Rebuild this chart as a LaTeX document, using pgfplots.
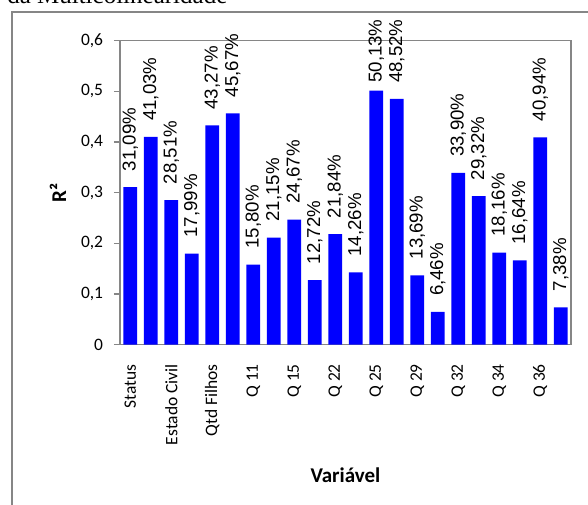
\documentclass[border=0pt]{standalone}
\usepackage{pgfplots}
\pgfplotsset{compat=1.18}
\usepackage{pgfplotstable}
\usepackage{fontspec}
\setmainfont{Carlito}
\newfontfamily\labelfont{Liberation Sans}
\newfontfamily\headfont{Liberation Serif}
\definecolor{framegray}{RGB}{134,134,134}
\definecolor{barblue}{RGB}{0,0,255}

% R^2 of each variable; ls = gap (pt) between bar top and its value label
\pgfplotstableread{
idx r2     ls
0   0.3109 12
1   0.4103 12
2   0.2851 12
3   0.1799 12
4   0.4327 12
5   0.4567 12
6   0.1580 12
7   0.2115 12
8   0.2467 12
9   0.1272 12
10  0.2184 12
11  0.1426 12
12  0.5013 6
13  0.4852 12
14  0.1369 12
15  0.0646 12
16  0.3390 12
17  0.2932 12
18  0.1816 12
19  0.1664 12
20  0.4094 12
21  0.0738 12
}\rsq

\begin{document}
\begin{tikzpicture}[x=0.75pt,y=0.75pt]
\useasboundingbox (0,0) rectangle (588,505);
\clip (0,0) rectangle (588,505);
\coordinate (plotorigin) at (120,160.3);
\node[anchor=base west, inner sep=0pt, font=\headfont\fontsize{18.75pt}{20pt}\selectfont] at (7,501) {da Multicolinearidade};
\draw[framegray, line width=1.1pt] (12,-20) -- (12,493) -- (640,493);
\begin{axis}[
  at={(plotorigin)}, anchor=south west,
  scale only axis, width=338.25pt, height=228pt,
  xmin=-0.5, xmax=21.5, ymin=0, ymax=0.6,
  ytick={0,0.1,...,0.6},
  yticklabel={\pgfmathprintnumber[fixed,use comma,precision=1,assume math mode=true]{\tick}},
  xtick={0,2,...,20},
  xticklabels={Status,Estado Civil,Qtd Filhos,Q 11,Q 15,Q 22,Q 25,Q 29,Q 32,Q 34,Q 36},
  ytick pos=left,
  tick align=outside,
  major tick length=4.5pt,
  xtick style={draw=none},
  every tick/.style={framegray, line width=0.9pt},
  axis line style={framegray, line width=0.9pt},
  tick label style={font=\fontsize{13.1pt}{15pt}\selectfont},
  yticklabel style={inner sep=0pt},
  yticklabel shift=8pt,
  xticklabel style={rotate=90, anchor=east, inner sep=0pt},
  xticklabel shift=10pt,
  xlabel={\bfseries Variável},
  ylabel={\bfseries R²},
  label style={font=\fontsize{15.75pt}{18pt}\selectfont},
  xlabel style={at={(axis description cs:0.5,-0.428)}, anchor=center},
  ylabel style={at={(axis description cs:-0.1375,0.5)}, anchor=center},
  ybar, bar width=10.3pt,
]
\addplot[fill=barblue, draw=none,
  point meta={\thisrow{r2}*100},
  visualization depends on={\thisrow{ls} \as \lshift},
  nodes near coords={\pgfmathprintnumber[fixed,fixed zerofill,precision=2,use comma,assume math mode=true]{\pgfplotspointmeta}\%},
  every node near coord/.append style={rotate=90, anchor=west, inner ysep=0pt, inner xsep=\lshift pt,
    outer sep=0pt, text=black, font=\labelfont\fontsize{14pt}{16pt}\selectfont},
] table[x=idx, y=r2] {\rsq};
\end{axis}
\end{tikzpicture}
\end{document}
